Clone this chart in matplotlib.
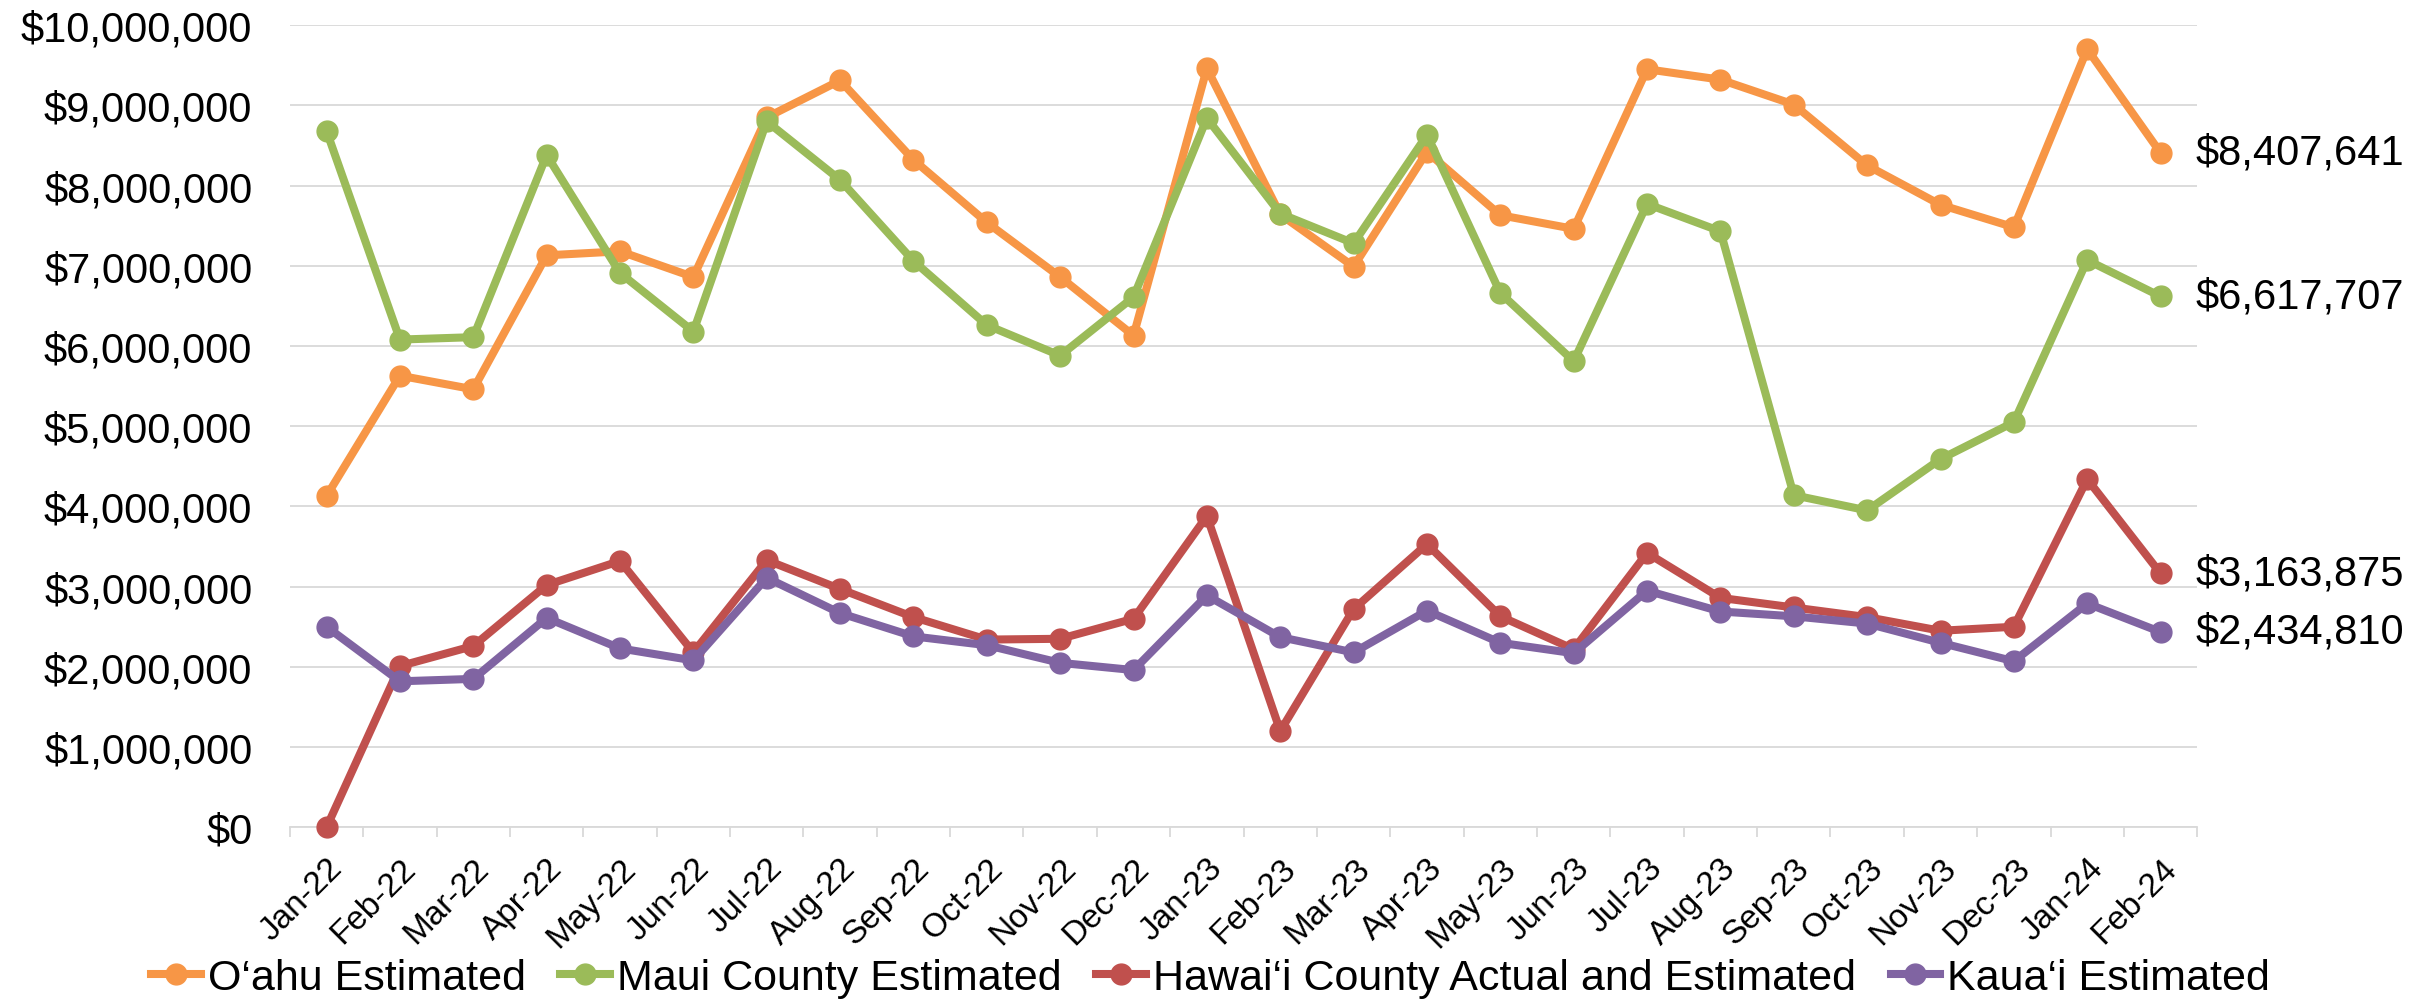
import matplotlib
matplotlib.use('Agg')
import matplotlib.pyplot as plt
from matplotlib.ticker import FuncFormatter, FixedLocator

plt.rcParams['font.family'] = ['Liberation Sans', 'DejaVu Sans']

# monthly estimates, dollars
months = ['Jan-22', 'Feb-22', 'Mar-22', 'Apr-22', 'May-22', 'Jun-22', 'Jul-22',
          'Aug-22', 'Sep-22', 'Oct-22', 'Nov-22', 'Dec-22', 'Jan-23', 'Feb-23',
          'Mar-23', 'Apr-23', 'May-23', 'Jun-23', 'Jul-23', 'Aug-23', 'Sep-23',
          'Oct-23', 'Nov-23', 'Dec-23', 'Jan-24', 'Feb-24']

oahu = [4130000, 5630000, 5460000, 7130000, 7180000, 6860000, 8850000,
        9310000, 8320000, 7540000, 6860000, 6130000, 9460000, 7640000,
        6990000, 8420000, 7630000, 7460000, 9450000, 9320000, 9010000,
        8250000, 7760000, 7480000, 9700000, 8407641]
maui = [8680000, 6080000, 6110000, 8380000, 6910000, 6180000, 8800000,
        8070000, 7060000, 6260000, 5880000, 6610000, 8840000, 7650000,
        7280000, 8630000, 6660000, 5810000, 7770000, 7430000, 4140000,
        3950000, 4590000, 5050000, 7070000, 6617707]
hawaii = [0, 2010000, 2260000, 3020000, 3320000, 2180000, 3330000,
          2970000, 2620000, 2340000, 2350000, 2600000, 3880000, 1200000,
          2720000, 3530000, 2630000, 2220000, 3420000, 2860000, 2740000,
          2620000, 2450000, 2500000, 4340000, 3163875]
kauai = [2500000, 1820000, 1850000, 2610000, 2230000, 2080000, 3110000,
         2670000, 2380000, 2270000, 2050000, 1960000, 2890000, 2370000,
         2180000, 2700000, 2300000, 2170000, 2950000, 2690000, 2630000,
         2540000, 2300000, 2070000, 2790000, 2434810]

series_names = ['O\u2018ahu Estimated', 'Maui County Estimated',
                'Hawai\u2018i County Actual and Estimated', 'Kaua\u2018i Estimated']
colors = ['#F79646', '#9BBB59', '#C0504D', '#8064A2']

fig = plt.figure(figsize=(24.36, 10.04), dpi=100)
ax = fig.add_axes([0.119, 0.175, 0.783, 0.799])

x = list(range(len(months)))
for vals, name, c in zip([oahu, maui, hawaii, kauai], series_names, colors):
    ax.plot(x, vals, color=c, lw=5.8, marker='o', ms=15, label=name,
            solid_joinstyle='round', clip_on=False, zorder=3)
    ax.annotate('${:,.0f}'.format(vals[-1]), xy=(x[-1], vals[-1]),
                xytext=(25, 0), textcoords='offset points',
                ha='left', va='center', fontsize=30, color='black')

ax.set_xlim(-0.5, len(months) - 0.5)
ax.set_ylim(0, 10000000)
ax.set_yticks(range(0, 10000001, 1000000))
ax.yaxis.set_major_formatter(FuncFormatter(lambda v, p: '${:,.0f}'.format(v)))
ax.grid(axis='y', color='#D9D9D9', lw=1.3)
ax.set_axisbelow(True)

ax.set_xticks(x)
ax.set_xticklabels(months, rotation=45, ha='right', rotation_mode='anchor',
                   fontsize=24)
ax.xaxis.set_minor_locator(FixedLocator([i - 0.5 for i in range(len(months) + 1)]))
ax.tick_params(axis='x', which='major', length=0, pad=18)
ax.tick_params(axis='x', which='minor', length=7, width=1.3, color='#D9D9D9')
ax.tick_params(axis='y', length=0, labelsize=30, pad=27)

for s in ['top', 'right', 'left']:
    ax.spines[s].set_visible(False)
ax.spines['bottom'].set_color('#D9D9D9')
ax.spines['bottom'].set_linewidth(1.3)

fig.legend(loc='center', bbox_to_anchor=(0.497, 0.025), ncol=4, frameon=False,
           fontsize=31, handlelength=1.15, handletextpad=0.17, columnspacing=0.8,
           borderpad=0)

fig.savefig('out.png', dpi=100)
